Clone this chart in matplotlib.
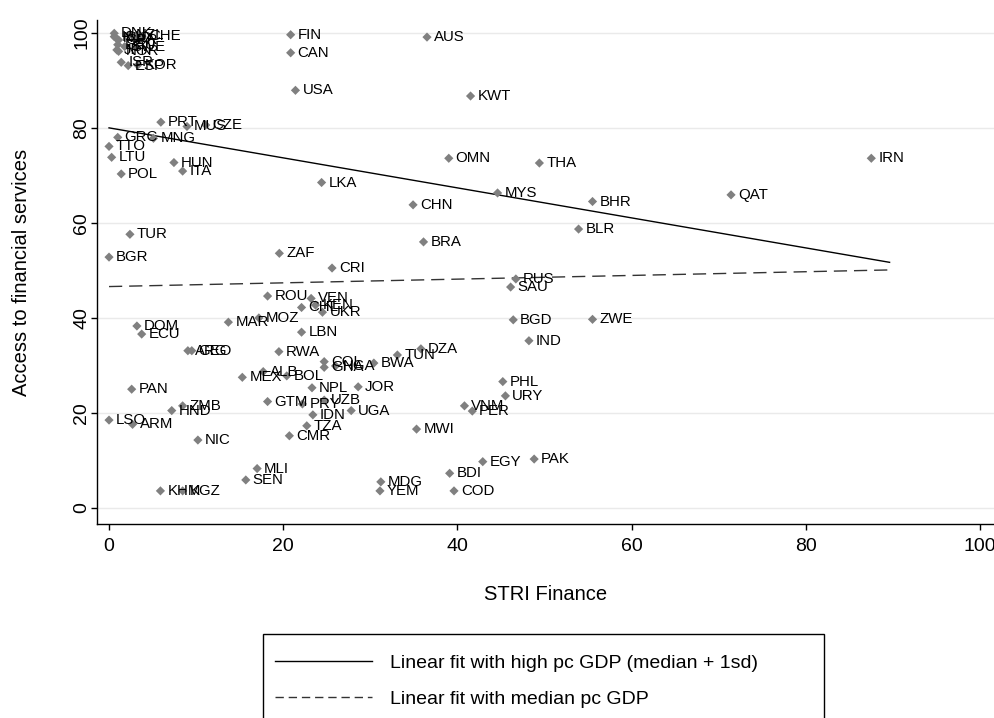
import matplotlib
matplotlib.use("Agg")
import matplotlib.pyplot as plt
from matplotlib.lines import Line2D
from matplotlib.patches import Rectangle

plt.rcParams['font.family'] = ['Liberation Sans', 'DejaVu Sans']

countries = ["DNK", "NZL", "CHE", "ISL", "NLD", "GBR", "DEU", "SWE", "JPN", "NOR", "ISR", "ESP", "KOR",
             "FIN", "CAN", "USA", "AUS", "KWT", "PRT", "MUS", "CZE", "GRC", "MNG", "TTO", "LTU", "POL",
             "HUN", "ITA", "OMN", "THA", "IRN", "LKA", "MYS", "CHN", "BHR", "QAT", "BLR", "TUR", "BRA",
             "ZAF", "BGR", "CRI", "RUS", "SAU", "ROU", "VEN", "CHL", "KEN", "UKR", "BGD", "ZWE", "MAR",
             "MOZ", "DOM", "ECU", "LBN", "IND", "ARG", "GEO", "RWA", "DZA", "TUN", "COL", "GHA", "NGA",
             "BWA", "MEX", "ALB", "BOL", "PHL", "NPL", "JOR", "PAN", "URY", "GTM", "PRY", "UZB", "ZMB",
             "HND", "VNM", "PER", "UGA", "IDN", "LSO", "ARM", "TZA", "MWI", "CMR", "NIC", "PAK", "EGY",
             "MLI", "BDI", "SEN", "MDG", "KHM", "KGZ", "YEM", "COD"]
stri = [0.6, 2.3, 3.8, 0.6, 0.8, 1.1, 1.0, 1.8, 0.9, 1.1, 1.4, 2.2, 3.3,
        20.85, 20.85, 21.4, 36.5, 41.5, 5.95, 8.95, 11.1, 1.0, 5.1, 0.0, 0.3, 1.4,
        7.45, 8.45, 39.0, 49.4, 87.5, 24.4, 44.6, 34.9, 55.5, 71.4, 53.9, 2.4, 36.1,
        19.55, 0.0, 25.6, 46.7, 46.1, 18.2, 23.2, 22.1, 23.7, 24.5, 46.4, 55.5, 13.7,
        17.2, 3.2, 3.75, 22.1, 48.2, 9.05, 9.5, 19.5, 35.8, 33.1, 24.7, 24.7, 26.0,
        30.4, 15.3, 17.7, 20.4, 45.2, 23.3, 28.6, 2.6, 45.5, 18.2, 22.2, 24.7, 8.45,
        7.2, 40.8, 41.7, 27.8, 23.4, 0.0, 2.7, 22.7, 35.3, 20.7, 10.2, 48.8, 42.9,
        17.0, 39.1, 15.7, 31.2, 5.9, 8.45, 31.1, 39.6]
access = [99.9, 99.5, 99.3, 99.2, 98.9, 98.5, 97.5, 97.1, 96.4, 96.1, 93.8, 93.1, 93.2,
          99.6, 95.8, 87.9, 99.1, 86.7, 81.2, 80.3, 80.6, 78.0, 77.8, 76.1, 73.8, 70.3,
          72.7, 70.9, 73.6, 72.6, 73.6, 68.5, 66.3, 63.8, 64.5, 65.9, 58.7, 57.6, 56.0,
          53.6, 52.8, 50.5, 48.2, 46.5, 44.6, 44.1, 42.2, 42.7, 41.2, 39.6, 39.7, 39.1,
          40.0, 38.3, 36.6, 37.0, 35.2, 33.1, 33.1, 32.9, 33.5, 32.2, 30.8, 29.6, 29.9,
          30.5, 27.5, 28.7, 27.8, 26.6, 25.3, 25.5, 25.0, 23.6, 22.4, 21.9, 22.7, 21.5,
          20.5, 21.5, 20.4, 20.5, 19.6, 18.5, 17.6, 17.3, 16.6, 15.2, 14.3, 10.3, 9.75,
          8.3, 7.3, 5.9, 5.5, 3.6, 3.6, 3.6, 3.6]

fit_x = [0.0, 89.6]
fit_high = [80.0, 51.7]
fit_median = [46.6, 50.1]

x_ticks = [0, 20, 40, 60, 80, 100]
y_ticks = [0, 20, 40, 60, 80, 100]

fig = plt.figure(figsize=(9.95, 7.18), dpi=100)
ax = fig.add_axes([97/995, 1-524/718, 898/995, 504/718])

for yt in y_ticks:
    ax.axhline(yt, color='#eaeaea', lw=1.0, zorder=0)

ax.scatter(stri, access, marker='D', s=22, color='#808080', edgecolors='none', zorder=3)
for c, xv, yv in zip(countries, stri, access):
    ax.annotate(c, (xv, yv), xytext=(5, 0), textcoords='offset points',
                ha='left', va='center', fontsize=10.8, color='black', zorder=4)

ax.plot(fit_x, fit_high, color='black', lw=1.0, zorder=2)
ax.plot(fit_x, fit_median, color='#333333', lw=1.0, dashes=(9.5, 5), zorder=2)

ax.set_xlim(-1.38, 101.7)
ax.set_ylim(-3.37, 102.7)
ax.set_xticks(x_ticks)
ax.set_yticks(y_ticks)
ax.set_yticklabels([str(v) for v in y_ticks], rotation=90, va='center')
ax.tick_params(axis='both', direction='out', length=4, width=1, labelsize=14)
ax.tick_params(axis='x', pad=6)
ax.tick_params(axis='y', pad=1)
for s in ['top', 'right']:
    ax.spines[s].set_visible(False)
for s in ['left', 'bottom']:
    ax.spines[s].set_linewidth(1.0)

ax.set_xlabel("STRI Finance", fontsize=14.5, labelpad=22)
ax.set_ylabel("Access to financial services", fontsize=14.5, labelpad=30)

# legend frame (cut off at the bottom, as in the reference)
fig.patches.append(Rectangle((263/995, -0.05), 561/995, 0.05 + 1 - 634/718,
                             transform=fig.transFigure, fill=False,
                             edgecolor='black', lw=1.0))

handles = [Line2D([0], [0], color='black', lw=1.0),
           Line2D([0], [0], color='#333333', lw=1.0, dashes=(6, 3.5))]
labels = ["Linear fit with high pc GDP (median + 1sd)", "Linear fit with median pc GDP"]
leg = fig.legend(handles, labels, loc='upper left',
                 bbox_to_anchor=(275/995, 1-654/718),
                 fontsize=14, frameon=False,
                 handlelength=5.0, handletextpad=0.9, labelspacing=0.98,
                 borderpad=0, borderaxespad=0)

fig.savefig("out.png", dpi=100)
